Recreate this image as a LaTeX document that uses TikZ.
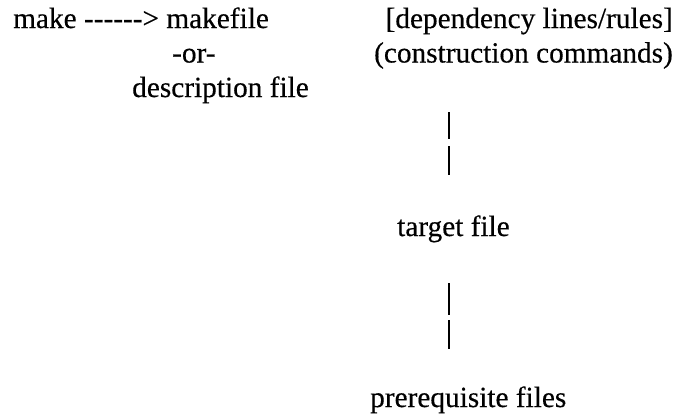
\documentclass[tikz,border=0pt]{standalone}
\usepackage{fontspec}
\setmainfont{Liberation Serif}[FakeBold=0.4]
\newcommand\hy{-\kern0pt}
\tikzset{
  lbl/.style={inner sep=0pt, text height=21bp, text depth=7bp,
    font=\fontsize{29.3bp}{35bp}\selectfont},
  vbar/.style={line width=2.4bp, black}
}
\begin{document}
\begin{tikzpicture}[x=1bp, y=-1bp]
  \useasboundingbox (0,0) rectangle (678,418);
  % left block: the make command and its input
  \node[lbl, anchor=base west] (mk)   at (13,28)   {make \hy\hy\hy\hy\hy\hy> makefile};
  \node[lbl, anchor=base west] (or)   at (172,62.5) {-or-};
  \node[lbl, anchor=base west] (desc) at (132,97)  {description file};
  % right block: contents of the makefile
  \node[lbl, anchor=base east] (dep)  at (673,28)   {[dependency lines/rules]};
  \node[lbl, anchor=base east] (cmd)  at (673,62.5) {(construction commands)};
  \node[lbl, anchor=base west] (tgt)  at (397,236)  {target file};
  \node[lbl, anchor=base west] (pre)  at (370,407)  {prerequisite files};
  % broken vertical connectors
  \coordinate (bx) at (449,0);
  \draw[vbar, shorten <=42.5bp, shorten >=40bp,
        dash pattern=on 27bp off 7bp on 29bp off 20bp]
    (bx |- cmd.south) -- (bx |- tgt.north);
  \draw[vbar, shorten <=40bp, shorten >=37bp,
        dash pattern=on 32bp off 5bp on 29bp off 20bp]
    (bx |- tgt.south) -- (bx |- pre.north);
\end{tikzpicture}
\end{document}
